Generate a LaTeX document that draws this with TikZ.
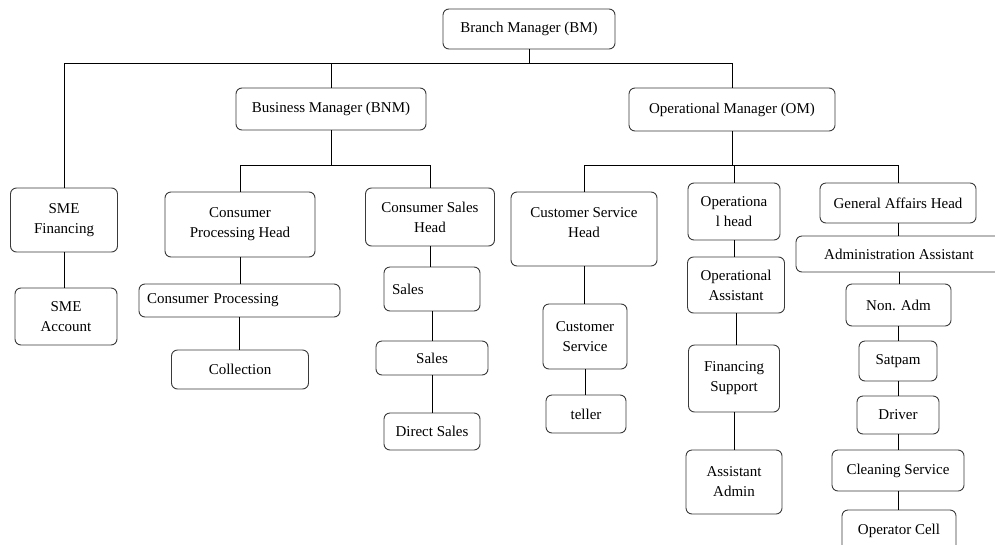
\documentclass[tikz,border=0pt]{standalone}
\usepackage{fontspec}
\setmainfont{Liberation Serif}
\usetikzlibrary{positioning}
\definecolor{boxline}{HTML}{3A3A3A}

\tikzset{
 box/.style={draw=boxline,line width=.9pt,rounded corners=6pt,fill=white,
 align=center,inner sep=3pt},
 link/.style={black,line width=.8pt},
}

\begin{document}
\begin{tikzpicture}[x=1pt,y=-1pt,font=\fontsize{15}{20}\selectfont]
\useasboundingbox (0,0) rectangle (995,544);
% Top level and the two managers.
\node[box,minimum width=172,minimum height=40] (bm) at (529,29) {Branch Manager (BM)};
\node[box,minimum width=190,minimum height=42] (bnm) at (331,109) {Business Manager (BNM)};
\node[box,minimum width=206,minimum height=43] (om) at (732,109.5) {Operational Manager (OM)};
% SME column.
\node[box,minimum width=107,minimum height=64] (smef) at (64,220) {SME\\Financing};
\node[box,minimum width=102,minimum height=57] (smea) at (66,316.5) {SME\\Account};
% Business manager's branch.
\node[box,minimum width=150,minimum height=65] (cph) at (240,224.5) {Consumer\\Processing Head};
\node[box,minimum width=201,minimum height=33,text width=185,align=left] (cp) at (239.5,300.5) {Consumer Processing};
\node[box,minimum width=137,minimum height=39] (coll) at (240,369.5) {Collection};
\node[box,minimum width=129,minimum height=58] (csh) at (430,217) {Consumer Sales\\Head};
\node[box,minimum width=96,minimum height=44,text width=80,align=left] (salesoff) at (432,289) {Sales};
\node[box,minimum width=112,minimum height=34] (sales) at (432,358) {Sales};
\node[box,minimum width=96,minimum height=37] (dsales) at (432,431.5) {Direct Sales};
% Operational manager's branch.
\node[box,minimum width=146,minimum height=74,text depth=12] (cush) at (584,229) {Customer Service\\Head};
\node[box,minimum width=84,minimum height=65] (cus) at (585,336.5) {Customer\\Service};
\node[box,minimum width=80,minimum height=38] (teller) at (586,414) {teller};
\node[box,minimum width=92,minimum height=57] (oph) at (734,211.5) {Operationa\\l head};
\node[box,minimum width=97,minimum height=56] (opa) at (736,285) {Operational\\Assistant};
\node[box,minimum width=91,minimum height=67] (fins) at (734,378.5) {Financing\\Support};
\node[box,minimum width=96,minimum height=64] (aadm) at (734,482) {Assistant\\Admin};
\node[box,minimum width=156,minimum height=40] (gah) at (898,203) {General Affairs Head};
\node[box,minimum width=206,minimum height=36] (adma) at (899,254) {Administration Assistant};
\node[box,minimum width=105,minimum height=42] (nonadm) at (898.5,305) {Non. Adm};
\node[box,minimum width=78,minimum height=40] (satpam) at (898,361) {Satpam};
\node[box,minimum width=82,minimum height=38] (driver) at (898,415) {Driver};
\node[box,minimum width=132,minimum height=41] (clean) at (898,470.5) {Cleaning Service};
\node[box,minimum width=114,minimum height=42] (opcell) at (899,531) {Operator Cell};
% Bus lines.
\coordinate (topbus) at (0,63);
\coordinate (midbus) at (0,165);
\draw[link] (bm.south) -- (bm.south |- topbus);
\draw[link] (smef.north) |- (om.north |- topbus) -- (om.north);
\draw[link] (bnm.north) -- (bnm.north |- topbus);
\draw[link] (bnm.south) -- (bnm.south |- midbus);
\draw[link] (cph.north) |- (csh.north |- midbus) -- (csh.north);
\draw[link] (om.south) -- (om.south |- midbus);
\draw[link] (cush.north) |- (gah.north |- midbus) -- (gah.north);
\draw[link] (oph.north) -- (oph.north |- midbus);
% Chains below each head.
\foreach \a/\b in {smef/smea,cph/cp,cp/coll,csh/salesoff,salesoff/sales,sales/dsales,
 cush/cus,cus/teller,oph/opa,opa/fins,fins/aadm,gah/adma,adma/nonadm,
 nonadm/satpam,satpam/driver,driver/clean,clean/opcell}
 \draw[link] (\a.south) -- (\a.south |- \b.north);
\end{tikzpicture}
\end{document}
